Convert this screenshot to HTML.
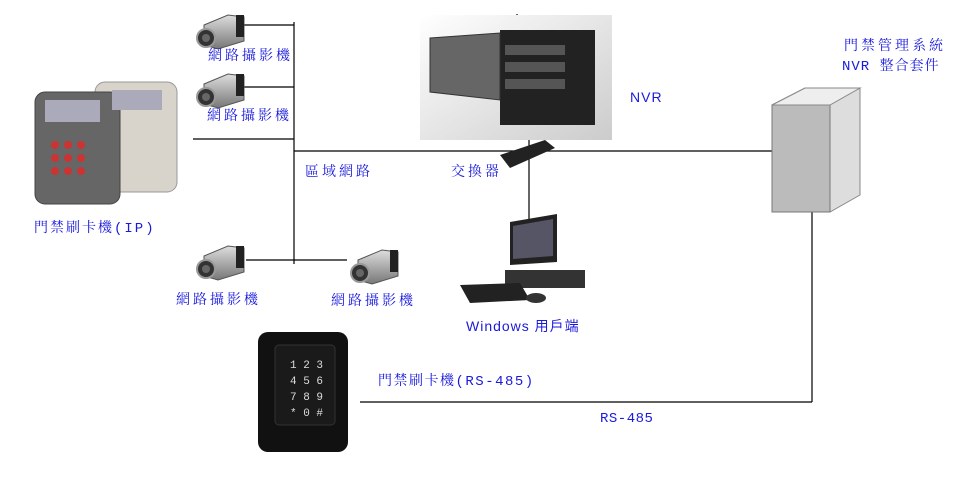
<!DOCTYPE html>
<html><head><meta charset="utf-8"><style>
body{margin:0;background:#fff;width:974px;height:475px;overflow:hidden}
svg text{font-family:"Liberation Mono","Noto Serif CJK TC","Noto Sans CJK TC",monospace;fill:#1a1adc;font-size:14px;letter-spacing:3px}
</style></head><body>
<svg width="974" height="475" viewBox="0 0 974 475" xmlns="http://www.w3.org/2000/svg">
<defs>
<linearGradient id="cam" x1="0" y1="0" x2="0" y2="1"><stop offset="0" stop-color="#ddd"/><stop offset="1" stop-color="#777"/></linearGradient>
<linearGradient id="nvrbg" x1="0" y1="0" x2="1" y2="1"><stop offset="0" stop-color="#fff"/><stop offset="1" stop-color="#ccc"/></linearGradient>
<g id="camera">
<polygon points="6,-8 30,-18 46,-16 46,8 20,16 6,12" fill="url(#cam)" stroke="#555"/>
<rect x="38" y="-18" width="8" height="22" fill="#222"/>
<circle cx="8" cy="5" r="9" fill="#333" stroke="#999" stroke-width="2"/>
<circle cx="8" cy="5" r="4" fill="#666"/>
</g>
</defs>
<g stroke="#000" stroke-width="1.2" fill="none">
<line x1="294" y1="22" x2="294" y2="264"/>
<line x1="240" y1="25" x2="294" y2="25"/>
<line x1="240" y1="87" x2="294" y2="87"/>
<line x1="193" y1="139" x2="294" y2="139"/>
<line x1="294" y1="151" x2="775" y2="151"/>
<line x1="529" y1="140" x2="529" y2="220"/>
<line x1="246" y1="260" x2="347" y2="260"/>
<line x1="517" y1="14" x2="517" y2="18"/>
<line x1="360" y1="402" x2="812" y2="402"/>
<line x1="812" y1="212" x2="812" y2="402"/>
</g>
<use href="#camera" x="198" y="33"/>
<use href="#camera" x="198" y="92"/>
<use href="#camera" x="198" y="264"/>
<use href="#camera" x="352" y="268"/>
<text x="208" y="60">網路攝影機</text>
<text x="207" y="120">網路攝影機</text>
<text x="176" y="304">網路攝影機</text>
<text x="331" y="305">網路攝影機</text>
<text x="305" y="176">區域網路</text>
<text x="451" y="176">交換器</text>
<text x="630" y="102" style="font-family:'Liberation Sans',sans-serif;letter-spacing:1px">NVR</text>
<text x="844" y="50">門禁管理系統</text>
<text x="842" y="70" style="letter-spacing:1px">NVR 整合套件</text>
<text x="34" y="232" style="letter-spacing:2px">門禁刷卡機(IP)</text>
<text x="466" y="331" style="font-family:'Liberation Sans','Noto Sans CJK TC',sans-serif;letter-spacing:1px">Windows 用戶端</text>
<text x="378" y="385" style="letter-spacing:1.5px">門禁刷卡機(RS-485)</text>
<text x="600" y="422" style="letter-spacing:0.5px">RS-485</text>
<!-- NVR -->
<rect x="420" y="15" width="192" height="125" fill="url(#nvrbg)"/>
<rect x="500" y="30" width="95" height="95" fill="#222"/>
<polygon points="430,38 500,33 500,100 430,92" fill="#666" stroke="#333"/>
<g fill="#555"><rect x="505" y="45" width="60" height="10"/><rect x="505" y="62" width="60" height="10"/><rect x="505" y="79" width="60" height="10"/></g>
<!-- switch -->
<polygon points="500,155 545,140 555,148 510,168" fill="#222"/>
<!-- card readers IP -->
<rect x="95" y="82" width="82" height="110" rx="10" fill="#d8d4cc" stroke="#999"/>
<rect x="35" y="92" width="85" height="112" rx="10" fill="#666" stroke="#444"/>
<rect x="45" y="100" width="55" height="22" fill="#aab"/>
<rect x="112" y="90" width="50" height="20" fill="#aab"/>
<g fill="#c33">
<circle cx="55" cy="145" r="4"/><circle cx="68" cy="145" r="4"/><circle cx="81" cy="145" r="4"/>
<circle cx="55" cy="158" r="4"/><circle cx="68" cy="158" r="4"/><circle cx="81" cy="158" r="4"/>
<circle cx="55" cy="171" r="4"/><circle cx="68" cy="171" r="4"/><circle cx="81" cy="171" r="4"/>
</g>
<!-- RS485 reader -->
<rect x="258" y="332" width="90" height="120" rx="10" fill="#111"/>
<rect x="275" y="345" width="60" height="80" rx="4" fill="#1a1a1a" stroke="#333"/>
<text x="290" y="368" style="fill:#ddd;font-size:11px;letter-spacing:0">1 2 3</text>
<text x="290" y="384" style="fill:#ddd;font-size:11px;letter-spacing:0">4 5 6</text>
<text x="290" y="400" style="fill:#ddd;font-size:11px;letter-spacing:0">7 8 9</text>
<text x="290" y="416" style="fill:#ddd;font-size:11px;letter-spacing:0">* 0 #</text>
<!-- PC tower -->
<polygon points="772,105 805,88 860,88 860,195 830,212 772,212" fill="#ddd" stroke="#888"/>
<polygon points="772,105 830,105 830,212 772,212" fill="#bbb" stroke="#777"/>
<polygon points="772,105 805,88 860,88 830,105" fill="#eee" stroke="#888"/>
<!-- Windows PC -->
<polygon points="510,222 557,214 557,262 510,265" fill="#222"/>
<polygon points="513,226 553,219 553,256 513,259" fill="#556"/>
<rect x="505" y="270" width="80" height="18" fill="#333"/>
<polygon points="460,285 520,283 530,300 470,303" fill="#222"/>
<ellipse cx="536" cy="298" rx="10" ry="5" fill="#333"/>
</svg>
</body></html>
